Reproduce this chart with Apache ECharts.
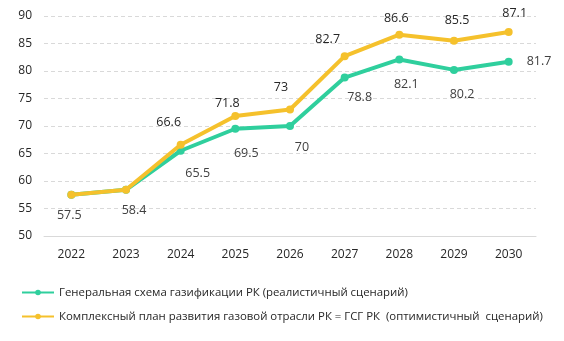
<!DOCTYPE html>
<html>
<head>
<meta charset="utf-8">
<script src="https://cdn.jsdelivr.net/npm/echarts@6/dist/echarts.min.js"></script>
<style>
  html, body { margin: 0; padding: 0; background: #ffffff; }
  #chart { width: 564px; height: 341px; }
</style>
</head>
<body>
<div id="chart"></div>
<script>
// Years on the category axis
const years = ['2022', '2023', '2024', '2025', '2026', '2027', '2028', '2029', '2030'];

// Realistic scenario (general gasification scheme)
const realisticName = 'Генеральная схема газификации РК (реалистичный сценарий)';
const realisticValues = [57.5, 58.4, 65.5, 69.5, 70, 78.8, 82.1, 80.2, 81.7];

// Optimistic scenario (comprehensive gas industry development plan)
const optimisticName = 'Комплексный план развития газовой отрасли РК = ГСГ РК  (оптимистичный  сценарий)';
const optimisticValues = [57.5, 58.4, 66.6, 71.8, 73, 82.7, 86.6, 85.5, 87.1];

// Value axis range
const yMin = 50, yMax = 90, yStep = 5;

const FONT = 'Open Sans';
const GREEN = '#2fcf9d';
const YELLOW = '#f5c12c';

// Label nudges so the numbers sit beside the line like in a spreadsheet chart
const greenNudge = [[-2, 0], [8, 0], [17, 2], [11, 4], [12, 1], [15, -1], [7, 4], [8, 4], [0, 0]];
const yellowNudge = [[0, 0], [0, 0], [-12, -4], [-8, 6], [-9, -4], [-17, 2], [-3, 2], [3, -2], [6, 0]];

const greenData = realisticValues.map((v, i) => {
  const last = i === realisticValues.length - 1;
  return {
    value: v,
    label: {
      position: last ? 'right' : 'bottom',
      distance: last ? 14 : 10,
      offset: greenNudge[i]
    }
  };
});

const yellowData = optimisticValues.map((v, i) => ({
  value: v,
  label: {
    show: i >= 2,
    position: 'top',
    distance: 8,
    offset: yellowNudge[i]
  }
}));

const chart = echarts.init(document.getElementById('chart'), null, { renderer: 'canvas' });
chart.setOption({
  animation: false,
  backgroundColor: '#ffffff',
  textStyle: { fontFamily: FONT },
  grid: { left: 44, right: 28, top: 16, bottom: 105 },
  legend: {
    orient: 'vertical',
    left: 16,
    top: 282,
    itemWidth: 32,
    itemHeight: 7,
    itemGap: 13,
    textStyle: { fontFamily: FONT, fontSize: 11.4, color: '#262626' },
    data: [realisticName, optimisticName]
  },
  xAxis: {
    type: 'category',
    data: years,
    boundaryGap: true,
    axisLine: { lineStyle: { color: '#d9d9d9', width: 1 } },
    axisTick: { show: false },
    axisLabel: { color: '#262626', fontSize: 12, fontFamily: FONT, margin: 13 }
  },
  yAxis: {
    type: 'value',
    min: yMin,
    max: yMax,
    interval: yStep,
    axisLine: { show: false },
    axisTick: { show: false },
    axisLabel: { color: '#262626', fontSize: 12, fontFamily: FONT, margin: 12 },
    splitLine: { lineStyle: { color: '#d9d9d9', type: [4, 3], width: 1 } }
  },
  series: [
    {
      name: realisticName,
      type: 'line',
      data: greenData,
      z: 2,
      symbol: 'circle',
      symbolSize: 8,
      lineStyle: { color: GREEN, width: 4 },
      itemStyle: { color: GREEN },
      label: { show: true, color: '#404040', fontSize: 12.5, fontFamily: FONT }
    },
    {
      name: optimisticName,
      type: 'line',
      data: yellowData,
      z: 3,
      symbol: 'circle',
      symbolSize: 8,
      lineStyle: { color: YELLOW, width: 4 },
      itemStyle: { color: YELLOW },
      label: { color: '#262626', fontSize: 12.5, fontFamily: FONT }
    }
  ]
});
</script>
</body>
</html>
